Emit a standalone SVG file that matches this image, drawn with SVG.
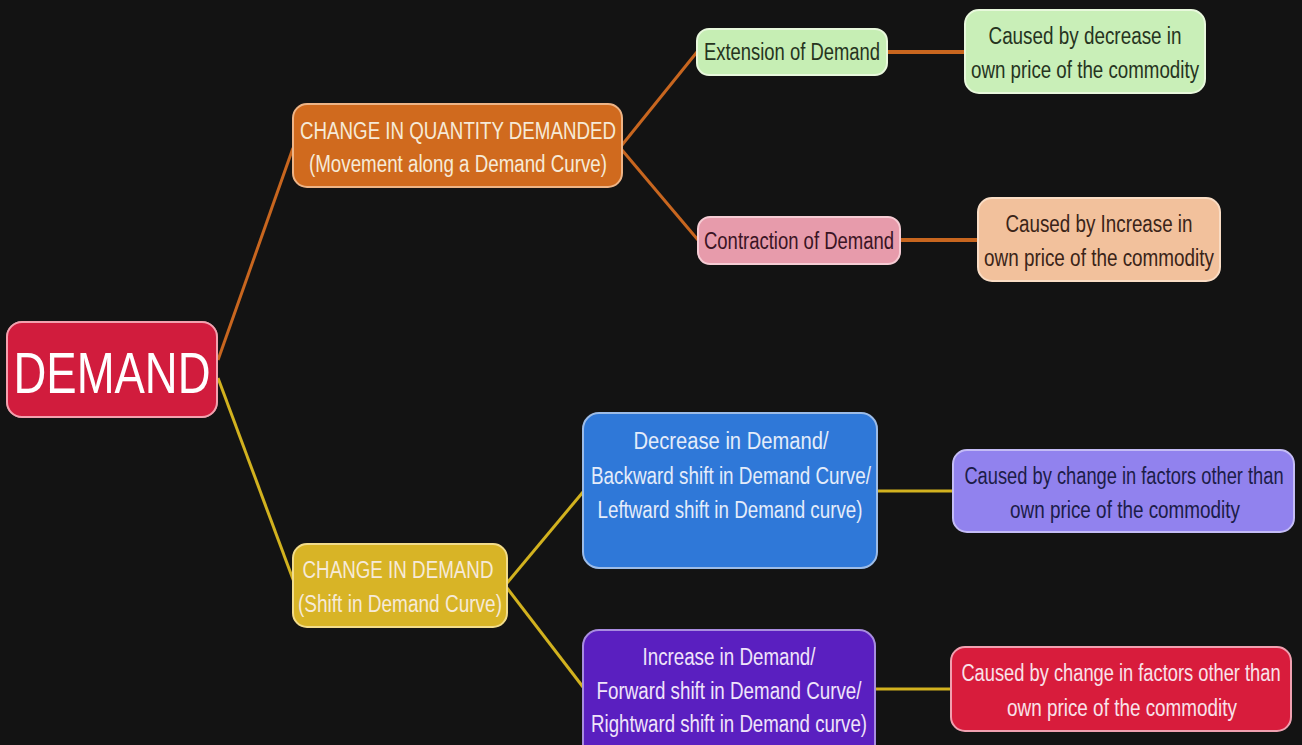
<svg xmlns="http://www.w3.org/2000/svg" width="1302" height="745" viewBox="0 0 1302 745">
  <style>
    .t { font-family: "Liberation Sans", Arial, sans-serif; font-size: 23px; text-anchor: middle; }
    .tn { font-family: "Liberation Sans", Arial, sans-serif; font-size: 18.3px; text-anchor: middle; }
    .big { font-family: "Liberation Sans", Arial, sans-serif; font-size: 57px; text-anchor: middle; fill: #ffffff; }
    .light { fill: #f6ead8; }
    .box { stroke-width: 2; }
    .lo { stroke: #c8661f; stroke-width: 3; fill: none; }
    .lo2 { stroke: #c8661f; stroke-width: 4; fill: none; }
    .ly { stroke: #d2b21f; stroke-width: 3; fill: none; }
  </style>
  <defs>
    <filter id="glow" x="-10%" y="-10%" width="120%" height="120%">
      <feGaussianBlur in="SourceAlpha" stdDeviation="2"/>
      <feFlood flood-color="#f4c8c8" flood-opacity="0.45"/>
      <feComposite operator="in" in2="SourceAlpha"/>
      <feMerge><feMergeNode/><feMergeNode in="SourceGraphic"/></feMerge>
    </filter>
  </defs>
  <rect width="1302" height="745" fill="#131313"/>

  <!-- connectors -->
  <g id="connectors">
    <line class="lo" x1="218" y1="360" x2="293" y2="148"/>
    <line class="ly" x1="218" y1="378" x2="294" y2="582"/>
    <line class="lo" x1="622" y1="145" x2="697" y2="52"/>
    <line class="lo" x1="622" y1="150" x2="698" y2="240"/>
    <line class="lo2" x1="887" y1="52" x2="965" y2="52"/>
    <line class="lo2" x1="900" y1="240" x2="978" y2="240"/>
    <line class="ly" x1="507" y1="583" x2="583" y2="492"/>
    <line class="ly" x1="507" y1="588" x2="583" y2="687"/>
    <line class="ly" x1="877" y1="491" x2="953" y2="491"/>
    <line class="ly" x1="875" y1="689" x2="951" y2="689"/>
  </g>

  <g id="demand">
    <rect class="box" x="7" y="322" width="210" height="95" rx="15" fill="#d11c3d" stroke="#f3a0ae" filter="url(#glow)"/>
    <text class="big" x="112" y="393" textLength="197" lengthAdjust="spacingAndGlyphs">DEMAND</text>
  </g>

  <g id="change-qty">
    <rect class="box" x="293" y="104" width="329" height="83" rx="14" fill="#d06a1e" stroke="#eeb486"/>
    <text class="t light" x="458" y="139" textLength="316" lengthAdjust="spacingAndGlyphs">CHANGE IN QUANTITY DEMANDED</text>
    <text class="t light" x="458" y="172" textLength="298" lengthAdjust="spacingAndGlyphs">(Movement along a Demand Curve)</text>
  </g>

  <g id="extension">
    <rect class="box" x="697" y="29" width="190" height="46" rx="12" fill="#c6eeb4" stroke="#e8f8dc"/>
    <text class="t" x="792" y="60" fill="#26341e" textLength="176" lengthAdjust="spacingAndGlyphs">Extension of Demand</text>
  </g>

  <g id="cause-ext">
    <rect class="box" x="965" y="10" width="240" height="83" rx="14" fill="#c9efb8" stroke="#e8f8dc"/>
    <text class="t" x="1085" y="44" fill="#26341e" textLength="193" lengthAdjust="spacingAndGlyphs">Caused by decrease in</text>
    <text class="t" x="1085" y="78" fill="#26341e" textLength="228" lengthAdjust="spacingAndGlyphs">own price of the commodity</text>
  </g>

  <g id="contraction">
    <rect class="box" x="698" y="217" width="202" height="47" rx="12" fill="#e79bab" stroke="#f6ccd4"/>
    <text class="t" x="799" y="249" fill="#3a1424" textLength="190" lengthAdjust="spacingAndGlyphs">Contraction of Demand</text>
  </g>

  <g id="cause-con">
    <rect class="box" x="978" y="198" width="242" height="83" rx="14" fill="#f2c19c" stroke="#f9dcc4"/>
    <text class="t" x="1099" y="232" fill="#3a2418" textLength="187" lengthAdjust="spacingAndGlyphs">Caused by Increase in</text>
    <text class="t" x="1099" y="266" fill="#3a2418" textLength="230" lengthAdjust="spacingAndGlyphs">own price of the commodity</text>
  </g>

  <g id="change-demand">
    <rect class="box" x="293" y="544" width="214" height="83" rx="14" fill="#d8b426" stroke="#f2dc8a"/>
    <text class="t light" x="398" y="578" textLength="191" lengthAdjust="spacingAndGlyphs">CHANGE IN DEMAND</text>
    <text class="t light" x="400" y="612" textLength="204" lengthAdjust="spacingAndGlyphs">(Shift in Demand Curve)</text>
  </g>

  <g id="decrease">
    <rect class="box" x="583" y="413" width="294" height="155" rx="16" fill="#2f78d8" stroke="#9cbce8"/>
    <text class="t" x="731" y="449" fill="#e4ecfa" textLength="195" lengthAdjust="spacingAndGlyphs">Decrease in Demand/</text>
    <text class="t" x="731" y="484" fill="#e4ecfa" textLength="280" lengthAdjust="spacingAndGlyphs">Backward shift in Demand Curve/</text>
    <text class="t" x="730" y="518" fill="#e4ecfa" textLength="265" lengthAdjust="spacingAndGlyphs">Leftward shift in Demand curve)</text>
  </g>

  <g id="cause-dec">
    <rect class="box" x="953" y="450" width="341" height="82" rx="14" fill="#9182ee" stroke="#c4bcf6"/>
    <text class="tn" transform="translate(1124,484) scale(1,1.26)" fill="#1c1c48">Caused by change in factors other than</text>
    <text class="t" x="1125" y="518" fill="#1c1c48" textLength="230" lengthAdjust="spacingAndGlyphs">own price of the commodity</text>
  </g>

  <g id="increase">
    <rect class="box" x="583" y="630" width="292" height="130" rx="16" fill="#5a1fc0" stroke="#a88ce0"/>
    <text class="t" x="729" y="665" fill="#f0e4fa" textLength="173" lengthAdjust="spacingAndGlyphs">Increase in Demand/</text>
    <text class="t" x="729" y="699" fill="#f0e4fa" textLength="265" lengthAdjust="spacingAndGlyphs">Forward shift in Demand Curve/</text>
    <text class="t" x="729" y="732" fill="#f0e4fa" textLength="276" lengthAdjust="spacingAndGlyphs">Rightward shift in Demand curve)</text>
  </g>

  <g id="cause-inc">
    <rect class="box" x="951" y="647" width="340" height="84" rx="14" fill="#d81c3c" stroke="#f0a0b0"/>
    <text class="tn" transform="translate(1121,681) scale(1,1.26)" fill="#f9e2ea">Caused by change in factors other than</text>
    <text class="t" x="1122" y="716" fill="#f9e2ea" textLength="230" lengthAdjust="spacingAndGlyphs">own price of the commodity</text>
  </g>
</svg>
